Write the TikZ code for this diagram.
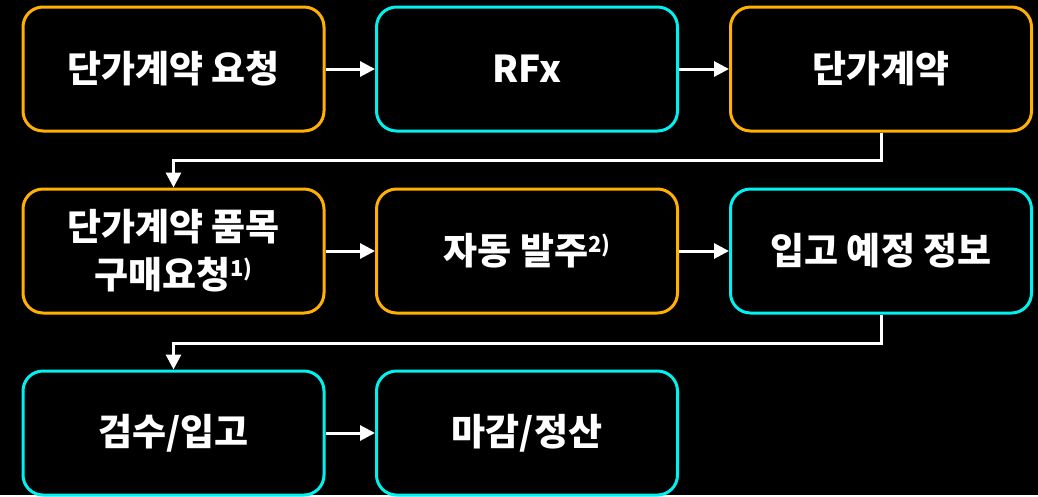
\documentclass[tikz,border=0pt]{standalone}
\usepackage{fontspec}
\setmainfont{Noto Sans CJK KR}
\usetikzlibrary{arrows.meta}
\definecolor{korange}{HTML}{FFB000}
\definecolor{kcyan}{HTML}{00F2F0}
\newcommand{\supnote}[1]{\raisebox{12pt}{\fontsize{22}{22}\selectfont #1}}
\begin{document}
\begin{tikzpicture}[x=1pt,y=-1pt,
  box/.style={draw,line width=3pt,rounded corners=20pt,minimum width=301pt,minimum height=124pt,
    fill=black,text=white,align=center,font=\fontsize{37}{48}\selectfont\bfseries,inner sep=0pt},
  obox/.style={box,draw=korange},
  cbox/.style={box,draw=kcyan},
  conn/.style={draw=white,line width=3pt,-{Triangle[length=15pt,width=15pt]}}]
\fill[black] (0,0) rectangle (1038,495);
\node[obox] (a) at (173.5,69) {단가계약 요청};
\node[cbox] (b) at (527,69) {RFx};
\node[obox] (c) at (881,69) {단가계약};
\node[obox] (d) at (173.5,251) {단가계약 품목\\구매요청\supnote{1)}};
\node[obox] (e) at (527,251) {자동 발주\supnote{2)}};
\node[cbox] (f) at (881,251) {입고 예정 정보};
\node[cbox] (g) at (173.5,433) {검수/입고};
\node[cbox] (h) at (527,433) {마감/정산};
\coordinate (m1) at (500,160);
\coordinate (m2) at (500,343);
\draw[conn] (a) -- (b);
\draw[conn] (b) -- (c);
\draw[conn] (c.south) |- (m1) -| (d.north);
\draw[conn] (d) -- (e);
\draw[conn] (e) -- (f);
\draw[conn] (f.south) |- (m2) -| (g.north);
\draw[conn] (g) -- (h);
\end{tikzpicture}
\end{document}
